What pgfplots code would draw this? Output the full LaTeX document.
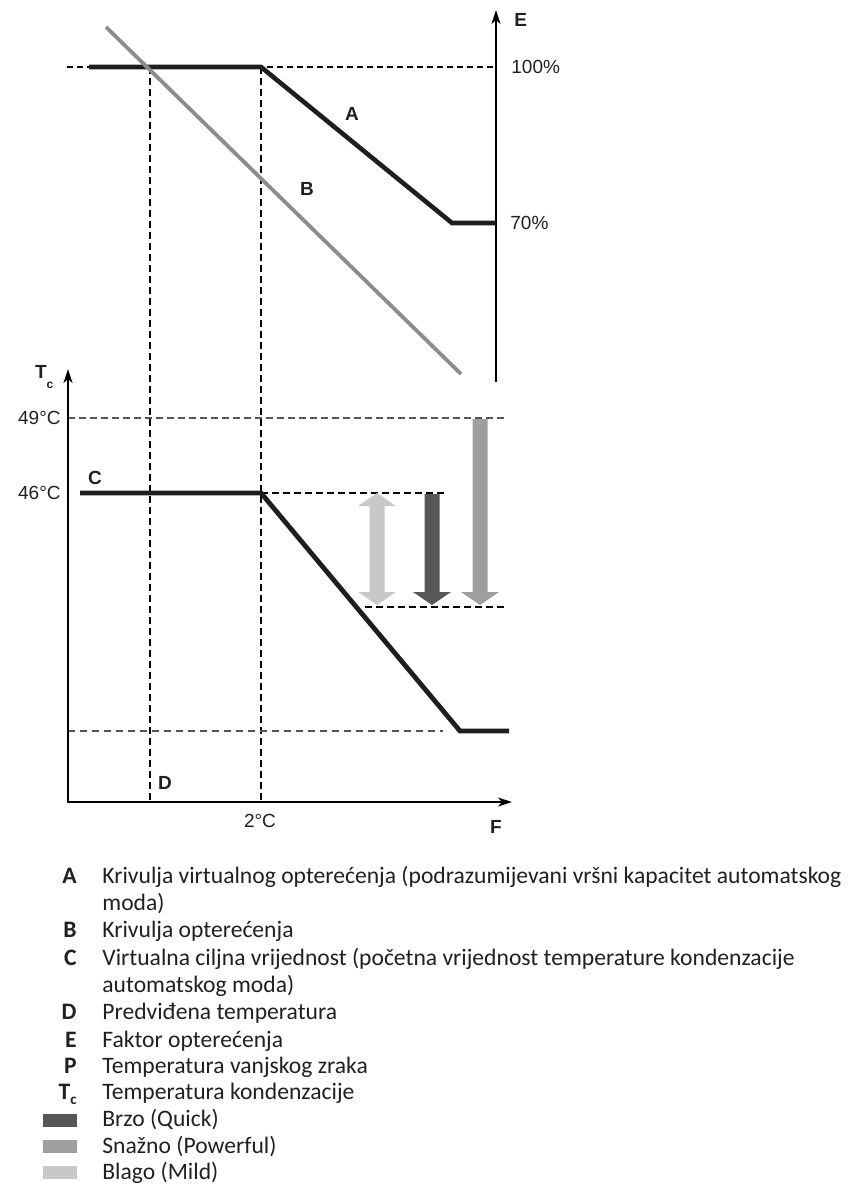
\documentclass[border=0pt]{standalone}
\usepackage{fontspec}
\setmainfont{Carlito}
\newfontfamily\arial{Liberation Sans}
\usepackage{pgfplots}
\pgfplotsset{compat=1.18}
\usetikzlibrary{arrows.meta}
\definecolor{lineblack}{HTML}{1E1E1E}
\definecolor{textblack}{HTML}{231F20}
\definecolor{loadgray}{HTML}{8C8C8C}
\definecolor{dashgray}{HTML}{555555}
\definecolor{quick}{HTML}{575757}
\definecolor{powerful}{HTML}{9E9E9E}
\definecolor{mild}{HTML}{C8C8C8}
\newcommand{\lblfont}{\arial\fontsize{9.5}{11}\selectfont}
\newcommand{\legfont}{\fontsize{11.8}{14}\selectfont}
\begin{document}
\begin{tikzpicture}[every node/.style={inner sep=0pt,text=textblack},
  >={Stealth[length=7pt,width=4.5pt,inset=2pt]}]
\begin{axis}[at={(0,0)},anchor=south west,
  width=428pt,height=592.5pt,scale only axis,
  xmin=0,xmax=856,ymin=0,ymax=1185,y dir=reverse,
  hide axis,clip=false]

% ---- dashed guide lines ----
\addplot[black,line width=0.6pt,dash pattern=on 3pt off 2pt] coordinates {(67,67) (496,67)};
\addplot[black,line width=0.6pt,dash pattern=on 3.5pt off 2pt] coordinates {(150,67) (150,802)};
\addplot[black,line width=0.6pt,dash pattern=on 3.5pt off 2pt] coordinates {(261,67) (261,802)};
\addplot[dashgray,line width=0.7pt,dash pattern=on 3.5pt off 2pt] coordinates {(68,418) (505,418)};
\addplot[black,line width=0.6pt,dash pattern=on 3.5pt off 2pt] coordinates {(261,493) (445,493)};
\addplot[black,line width=0.6pt,dash pattern=on 3.5pt off 2pt] coordinates {(365,607) (505,607)};
\addplot[dashgray,line width=0.7pt,dash pattern=on 3.5pt off 2.5pt] coordinates {(68,731) (443,731)};

% ---- axes ----
\addplot[black,line width=0.9pt,->] coordinates {(496,382) (496,10)};
\addplot[black,line width=0.9pt,<->] coordinates {(68,369) (68,802) (512,802)};

% ---- curve A (virtual load curve) ----
\addplot[lineblack,line width=2.3pt] coordinates {(89,67) (261,67) (452,223) (496,223)};
% ---- curve B (load curve) ----
\addplot[loadgray,line width=1.9pt] coordinates {(106,27) (461,374)};
% ---- curve C (virtual target value) ----
\addplot[lineblack,line width=2.4pt] coordinates {(80,493) (261,493) (460,731) (509,731)};

% ---- arrows (Mild / Quick / Powerful) ----
\addplot[fill=mild,draw=none] coordinates {(377,493) (396,506) (384.5,506) (384.5,592) (396,592) (377,605) (358,592) (369.5,592) (369.5,506) (358,506)};
\addplot[fill=quick,draw=none] coordinates {(424.5,494) (439.5,494) (439.5,592) (451,592) (432,605) (413,592) (424.5,592)};
\addplot[fill=powerful,draw=none] coordinates {(472.5,419) (487.5,419) (487.5,592) (499,592) (480,605) (461,592) (472.5,592)};

% ---- chart labels ----
\node[font=\lblfont\bfseries,anchor=west] at (axis cs:514,20) {E};
\node[font=\lblfont,anchor=west] at (axis cs:511,67) {100\%};
\node[font=\lblfont,anchor=west] at (axis cs:510,223) {70\%};
\node[font=\lblfont\bfseries] at (axis cs:352,114) {A};
\node[font=\lblfont\bfseries] at (axis cs:307,189) {B};
\node[font=\lblfont\bfseries] at (axis cs:41,372) {T};
\node[font=\arial\fontsize{6}{7}\selectfont\bfseries] at (axis cs:50,385) {c};
\node[font=\lblfont,anchor=east] at (axis cs:61,418) {49°C};
\node[font=\lblfont,anchor=east] at (axis cs:61,493) {46°C};
\node[font=\lblfont\bfseries] at (axis cs:95,478) {C};
\node[font=\lblfont\bfseries] at (axis cs:165,783) {D};
\node[font=\lblfont] at (axis cs:260,821) {2°C};
\node[font=\lblfont\bfseries] at (axis cs:496,827) {F};

% ---- key ----
\addplot[fill=quick,draw=none] coordinates {(43,1114) (77,1114) (77,1127) (43,1127)};
\addplot[fill=powerful,draw=none] coordinates {(43,1140) (77,1140) (77,1153) (43,1153)};
\addplot[fill=mild,draw=none] coordinates {(43,1166) (77,1166) (77,1179) (43,1179)};

\node[font=\legfont\bfseries,anchor=base east] at (axis cs:77,883) {A};
\node[font=\legfont,anchor=base west] at (axis cs:102,883) {Krivulja virtualnog opterećenja (podrazumijevani vršni kapacitet automatskog};
\node[font=\legfont,anchor=base west] at (axis cs:102,910) {moda)};
\node[font=\legfont\bfseries,anchor=base east] at (axis cs:77,937) {B};
\node[font=\legfont,anchor=base west] at (axis cs:102,937) {Krivulja opterećenja};
\node[font=\legfont\bfseries,anchor=base east] at (axis cs:77,965) {C};
\node[font=\legfont,anchor=base west] at (axis cs:102,965) {Virtualna ciljna vrijednost (početna vrijednost temperature kondenzacije};
\node[font=\legfont,anchor=base west] at (axis cs:102,992) {automatskog moda)};
\node[font=\legfont\bfseries,anchor=base east] at (axis cs:77,1019) {D};
\node[font=\legfont,anchor=base west] at (axis cs:102,1019) {Predviđena temperatura};
\node[font=\legfont\bfseries,anchor=base east] at (axis cs:77,1047) {E};
\node[font=\legfont,anchor=base west] at (axis cs:102,1047) {Faktor opterećenja};
\node[font=\legfont\bfseries,anchor=base east] at (axis cs:77,1073) {P};
\node[font=\legfont,anchor=base west] at (axis cs:102,1073) {Temperatura vanjskog zraka};
\node[font=\legfont\bfseries,anchor=base east] at (axis cs:77,1099) {T\raisebox{-0.45ex}{\fontsize{7.5}{8}\selectfont c}};
\node[font=\legfont,anchor=base west] at (axis cs:102,1099) {Temperatura kondenzacije};
\node[font=\legfont,anchor=base west] at (axis cs:102,1126) {Brzo (Quick)};
\node[font=\legfont,anchor=base west] at (axis cs:102,1153) {Snažno (Powerful)};
\node[font=\legfont,anchor=base west] at (axis cs:102,1179) {Blago (Mild)};
\end{axis}
\pgfresetboundingbox
\path (0,0) rectangle (428pt,592.5pt);
\end{tikzpicture}
\end{document}
